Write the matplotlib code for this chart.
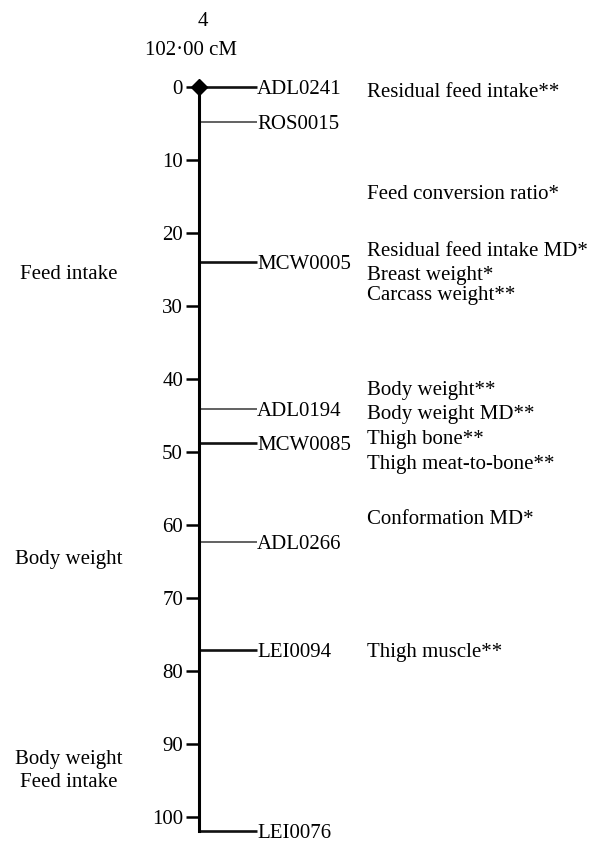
import matplotlib
matplotlib.use("Agg")
import matplotlib.pyplot as plt

plt.rcParams['font.family'] = ['Liberation Serif', 'DejaVu Serif']

# Chromosome 4 linkage map (cM)
chrom_name = "4"
chrom_len = 102.0
markers = ["ADL0241", "ROS0015", "MCW0005", "ADL0194", "MCW0085",
           "ADL0266", "LEI0094", "LEI0076"]
marker_pos = [0.0, 4.8, 24.0, 44.1, 48.7, 62.4, 77.1, 102.0]
marker_dark = [True, False, True, False, True, False, True, True]

# QTL labels on the right
traits = ["Residual feed intake**", "Feed conversion ratio*",
          "Residual feed intake MD*", "Breast weight*", "Carcass weight**",
          "Body weight**", "Body weight MD**", "Thigh bone**",
          "Thigh meat-to-bone**", "Conformation MD*", "Thigh muscle**"]
trait_pos = [0.3, 14.4, 22.2, 25.4, 28.2, 41.2, 44.5, 48.0, 51.4, 58.9, 77.1]

# labels on the left
left_labels = ["Feed intake", "Body weight", "Body weight\nFeed intake"]
left_pos = [25.6, 64.8, 93.7]

ticks = list(range(0, 101, 10))

fig = plt.figure(figsize=(5.99, 8.43), dpi=100)
ax = fig.add_axes([0, 0, 1, 1])
ax.set_xlim(0, 599)
ax.set_ylim(103.6, -11.97)

axis_x = 199
fs = 15

# the chromosome bar with its scale
for s in ['top', 'right', 'bottom']:
    ax.spines[s].set_visible(False)
ax.spines['left'].set_position(('data', axis_x))
ax.spines['left'].set_bounds(0, chrom_len)
ax.spines['left'].set_linewidth(2.2)
ax.set_xticks([])
ax.set_yticks(ticks)
ax.tick_params(axis='y', direction='out', length=9.5, width=1.8, pad=2,
               labelsize=fs)

# markers
for name, pos, dark in zip(markers, marker_pos, marker_dark):
    ax.plot([axis_x, 257], [pos, pos], color='#111111' if dark else '#555555',
            lw=1.9 if dark else 1.3, solid_capstyle='butt')
    ax.text(257, pos, name, ha='left', va='center_baseline', fontsize=fs)

ax.plot([axis_x], [0], marker='D', color='black', ms=8.5, clip_on=False)

for t, pos in zip(traits, trait_pos):
    ax.text(367, pos, t, ha='left', va='center_baseline', fontsize=fs)

for t, pos in zip(left_labels, left_pos):
    ax.text(69, pos, t, ha='center', va='center', fontsize=fs,
            multialignment='center', linespacing=1.25)

ax.text(203, -9.3, chrom_name, ha='center', va='center_baseline', fontsize=fs)
ax.text(191, -5.4, ("%.2f cM" % chrom_len).replace('.', '\u00b7'),
        ha='center', va='center_baseline', fontsize=fs)

fig.savefig("out.png", dpi=100)
